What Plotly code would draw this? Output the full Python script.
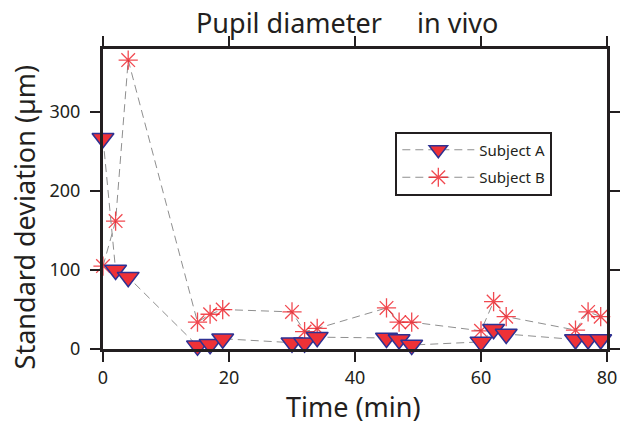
import plotly.graph_objects as go

# Measurement times (min) shared by both subjects
time_min = [0, 2, 4, 15, 17, 19, 30, 32, 34, 45, 47, 49, 60, 62, 64, 75, 77, 79]

# Standard deviation of pupil diameter (µm)
subject_a = [267, 100, 91, 4, 6, 13, 8, 8, 15, 14, 12, 5, 9, 25, 19, 12, 12, 12]
subject_b = [105, 162, 366, 34, 44, 50, 47, 22, 26, 52, 34, 34, 23, 60, 41, 24, 47, 41]

x_ticks = [0, 20, 40, 60, 80]
y_ticks = [0, 100, 200, 300]

FONT = "Noto Sans"
INK = "#231f20"
LINE_GREY = "#8f8f8f"
STAR_RED = "rgba(237,28,36,0.8)"

fig = go.Figure()

# Subject B first so the triangles sit on top of the asterisks
fig.add_trace(go.Scatter(
    x=time_min, y=subject_b, name="Subject B", mode="lines+markers",
    legendgroup="b", legendrank=2,
    line=dict(color=LINE_GREY, width=1, dash="8px,5px"),
    marker=dict(symbol="asterisk-open", size=16, color=STAR_RED,
                line=dict(color=STAR_RED, width=1.3)),
    cliponaxis=False,
))
fig.add_trace(go.Scatter(
    x=time_min, y=subject_a, name="Subject A", mode="lines+markers",
    legendgroup="a", legendrank=1,
    line=dict(color=LINE_GREY, width=1, dash="8px,5px"),
    marker=dict(symbol="triangle-down", size=19, color="#ee3137",
                line=dict(color="#2e3192", width=1.5)),
    cliponaxis=False,
))

axis_common = dict(
    showgrid=False, zeroline=False, showline=True, linecolor=INK, linewidth=3,
    mirror="allticks", ticks="outside", ticklen=10, tickwidth=2, tickcolor=INK,
    tickfont=dict(family=FONT, size=18, color=INK), automargin=False,
)

title_font = dict(size=27, family=FONT, color=INK)

fig.update_layout(
    width=621, height=426,
    margin=dict(l=103, r=14, t=49, b=77),
    paper_bgcolor="white", plot_bgcolor="white",
    font=dict(family=FONT, color=INK),
    xaxis=dict(range=[0, 80], tickvals=x_ticks, ticklabelstandoff=0, **axis_common),
    yaxis=dict(range=[0, 380], tickvals=y_ticks, ticklabelstandoff=6, **axis_common),
    legend=dict(
        x=0.58, y=0.725, xanchor="left", yanchor="top",
        bgcolor="white", bordercolor=INK, borderwidth=2,
        font=dict(family=FONT, size=15, color=INK),
        itemwidth=72, tracegroupgap=5,
    ),
    annotations=[
        dict(text="Pupil diameter\u00a0\u00a0\u00a0\u00a0 in vivo", xref="paper", yref="paper",
             x=0.484, y=1.088, xanchor="center", yanchor="middle",
             showarrow=False, font=title_font),
        dict(text="Time (min)", xref="paper", yref="paper",
             x=0.497, y=-0.193, xanchor="center", yanchor="middle",
             showarrow=False, font=title_font),
        dict(text="Standard deviation (µm)", xref="paper", yref="paper", textangle=-90,
             x=-0.156, y=0.44, xanchor="center", yanchor="middle",
             showarrow=False, font=title_font),
    ],
)

fig.write_html("out.html")
